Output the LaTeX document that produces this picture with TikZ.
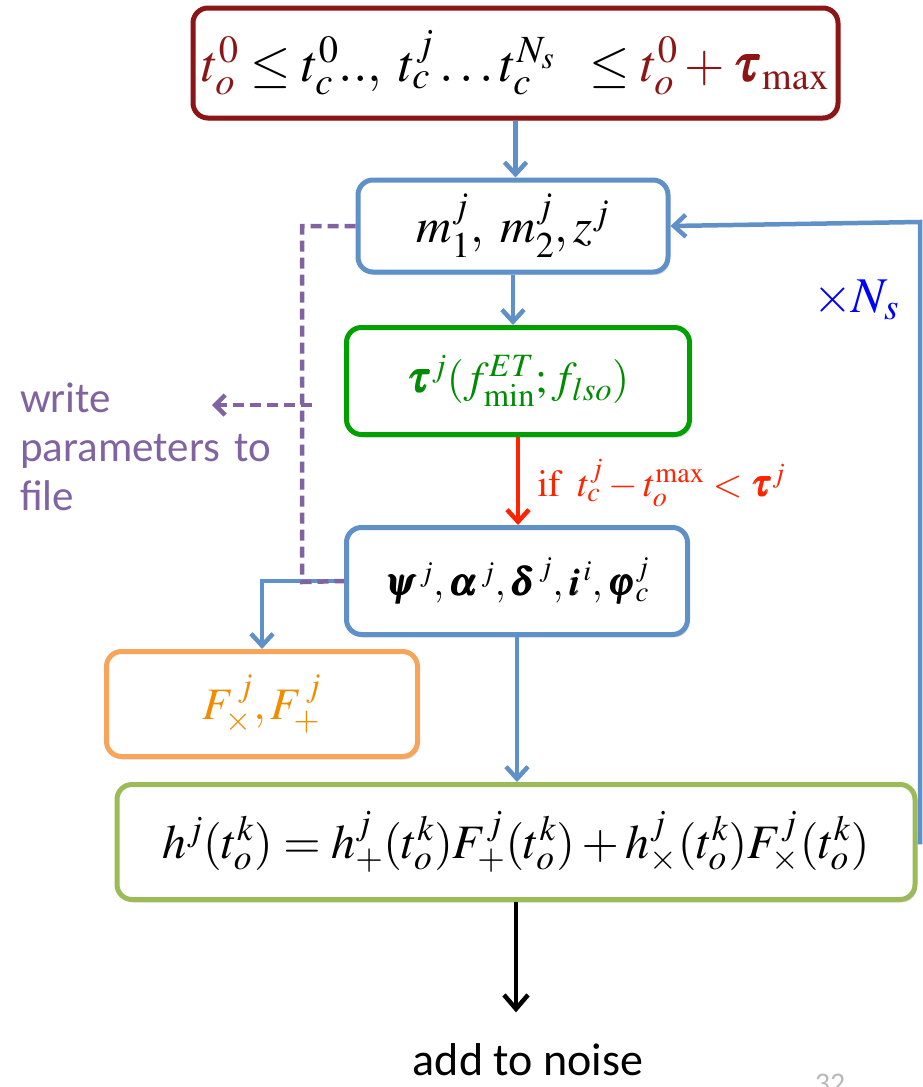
\documentclass[tikz,border=0pt]{standalone}
\usepackage{mathptmx}
\usepackage{bm}
\usepackage[no-math]{fontspec}
\newfontfamily\calibri{Carlito}
\usetikzlibrary{arrows.meta,shadows}

\definecolor{boxred}{RGB}{140,22,22}
\definecolor{boxblue}{RGB}{95,145,200}
\definecolor{boxgreen}{RGB}{0,160,0}
\definecolor{txtgreen}{RGB}{0,140,0}
\definecolor{boxorange}{RGB}{247,165,90}
\definecolor{txtorange}{RGB}{240,140,0}
\definecolor{boxlime}{RGB}{155,187,89}
\definecolor{parampurple}{RGB}{128,100,162}
\definecolor{ifred}{RGB}{255,35,0}
\definecolor{pagegray}{RGB}{185,185,185}

\tikzset{
  stepbox/.style={draw, line width=5pt, rounded corners=15pt, fill=white,
    drop shadow={shadow xshift=2pt, shadow yshift=-3pt, opacity=0.25}},
  flow/.style={boxblue, line width=4.5pt, -{Straight Barb[length=12pt,width=22pt,line width=4.5pt]}},
  param/.style={parampurple, line width=4.5pt, dash pattern=on 11pt off 6pt}
}

\begin{document}
\begin{tikzpicture}[x=1pt, y=-1pt]
            \useasboundingbox (0,0) rectangle (923,1087);

            % Cajas del diagrama
            \node[stepbox, draw=boxred, minimum width=645pt, minimum height=110pt, inner sep=2pt,
              font=\fontsize{52}{58}\selectfont] (tbox) at (515.5,63)
              {$\color{boxred}t_o^0 \color{black}\le t_c^0..,\; t_c^j\ldots t_c^{N_s}\;\;\le \color{boxred}t_o^0+\bm{\tau}_{\max}$};
            \node[stepbox, draw=boxblue, minimum width=310pt, minimum height=92pt,
              font=\fontsize{49}{56}\selectfont] (mbox) at (513,226)
              {$m_1^j,\; m_2^j, z^j$};
            \node[stepbox, draw=boxgreen, minimum width=343pt, minimum height=107pt,
              font=\fontsize{44}{50}\selectfont] (taubox) at (518,381)
              {\color{txtgreen}$\bm{\tau}^j(f_{\min}^{ET}; f_{lso})$};
            \node[stepbox, draw=boxblue, minimum width=341pt, minimum height=107pt,
              font=\fontsize{39}{44}\selectfont] (psibox) at (517,581)
              {$\bm{\psi}^{\,j}, \bm{\alpha}^{\,j}, \bm{\delta}^{\,j}, \bm{i}^{\,i}, \bm{\varphi}_c^j$};
            \node[stepbox, draw=boxorange, minimum width=311pt, minimum height=105pt,
              font=\fontsize{45}{50}\selectfont] (fbox) at (262,704)
              {\color{txtorange}$F_\times^{\,j}, F_+^{\,j}$};
            \node[stepbox, draw=boxlime, minimum width=798pt, minimum height=115pt,
              font=\fontsize{48}{54}\selectfont] (hbox) at (516,842)
              {$h^j(t_o^k) = h_+^j(t_o^k)F_+^j(t_o^k) + h_\times^j(t_o^k)F_\times^j(t_o^k)$};

            % Textos sueltos
            \node[blue, font=\fontsize{50}{56}\selectfont] (nslbl) at (856,300) {$\times N_s$};
            \node[parampurple, text width=270pt, align=left, anchor=north west, inner sep=0pt,
              font=\fontsize{43}{49}\selectfont\calibri] (writelbl) at (20,383)
              {write\\parameters to\\file};
            \node[font=\fontsize{46}{52}\selectfont\calibri] (noise) at (528,1060) {add to noise};
            \node[pagegray, font=\fontsize{30}{34}\selectfont\calibri] (pagenum) at (830,1084) {32};

            % Coordenadas del lazo y de la linea punteada
            \coordinate (loopt) at (920,222);
            \coordinate (ptop) at (302,226);
            \coordinate (pbot) at (302,582);
            \coordinate (pmid) at (312,405);
            \coordinate (wtip) at (212,405);

            % Flechas principales
            \draw[flow] (tbox.south) -- (tbox.south |- mbox.north);
            \draw[flow] (mbox.south) -- (mbox.south |- taubox.north);
            \draw[flow, ifred] (taubox.south) -- (taubox.south |- psibox.north)
              node[midway, right, xshift=14pt, yshift=-2pt, font=\fontsize{38}{44}\selectfont]
              {$\mathrm{if}\;\; t_c^j - t_o^{\max} < \bm{\tau}^j$};
            \draw[flow] (psibox.west) -- (fbox.north |- psibox.west) -- (fbox.north);
            \draw[flow] (psibox.south) -- (psibox.south |- hbox.north);
            \draw[black, line width=4.5pt, -{Straight Barb[length=14pt,width=24pt,line width=4.5pt]}, shorten >=28pt]
              (hbox.south) -- (hbox.south |- noise.north);

            % Lazo de vuelta (x N_s)
            \draw[flow] (hbox.east) -- (hbox.east -| loopt) -- (loopt) -- (mbox.east);

            % Escritura de parametros
            \draw[param] (mbox.west) -- (ptop) -- (pbot) -- (psibox.west);
            \draw[param, -{Straight Barb[length=10pt,width=20pt,line width=4.5pt]}] (pmid) -- (wtip);
        \end{tikzpicture}
\end{document}
